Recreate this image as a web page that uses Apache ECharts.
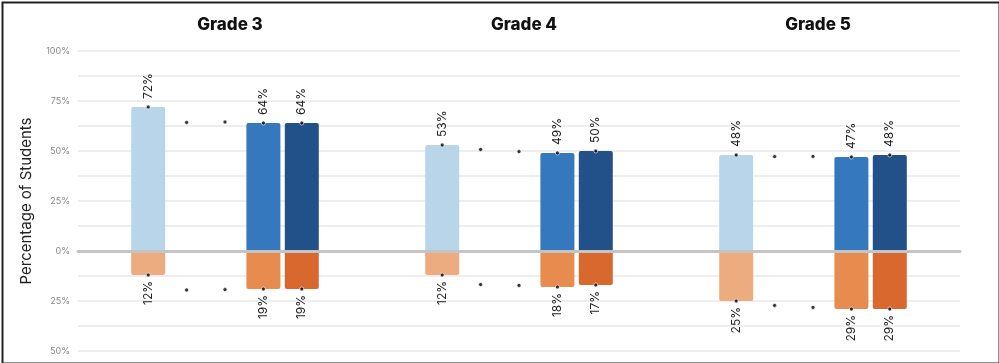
<!DOCTYPE html>
<html>
<head>
<meta charset="utf-8">
<script src="https://cdn.jsdelivr.net/npm/echarts@6/dist/echarts.min.js"></script>
<style>
html,body{margin:0;padding:0;background:#fff;}
#chart{width:999px;height:363px;}
</style>
</head>
<body>
<div id="chart"></div>
<script>
// ---- data ----
const grades = ['Grade 3', 'Grade 4', 'Grade 5'];
const slots = ['Group 1', 'Group 2', 'Group 3', 'Group 4', 'Group 5'];
const hasBar = [true, false, false, true, true];
const upperG3 = [72, 64.3, 64.5, 64, 64];
const lowerG3 = [12, 19.5, 19.3, 19, 19];
const upperG4 = [53, 50.8, 49.7, 49, 50];
const lowerG4 = [12, 16.8, 17.2, 18, 17];
const upperG5 = [48, 47.2, 47.3, 47, 48];
const lowerG5 = [25, 27.2, 28.2, 29, 29];
const yTicks = [-50, -25, 0, 25, 50, 75, 100];

const upperColors = ['#b9d5ea', null, null, '#3578bd', '#22518a'];
const lowerColors = ['#edac80', null, null, '#e88b4e', '#d9682e'];
const upperAll = [upperG3, upperG4, upperG5];
const lowerAll = [lowerG3, lowerG4, lowerG5];

const FONT = 'Inter, "Noto Sans", sans-serif';
const plotLeft = 78, plotRight = 960, plotTop = 51, plotBottom = 351;
const panelW = (plotRight - plotLeft) / 3;
const slotW = 38.4;
const innerW = slotW * slots.length;

const grid = [{left: plotLeft, width: plotRight - plotLeft, top: plotTop, height: plotBottom - plotTop}];
const xAxis = [{
  type: 'category', gridIndex: 0, data: [''],
  axisTick: {show: false}, axisLabel: {show: false},
  axisLine: {show: true, onZero: true, lineStyle: {color: '#c4c4c4', width: 3}}
}];
const yAxis = [{
  type: 'value', gridIndex: 0, min: -50, max: 100, interval: 12.5,
  name: 'Percentage of Students', nameLocation: 'middle', nameGap: 44,
  nameTextStyle: {fontFamily: FONT, fontSize: 15, color: '#222'},
  axisLine: {show: false}, axisTick: {show: false},
  splitLine: {show: true, lineStyle: {color: '#eeeeee', width: 2}},
  axisLabel: {
    fontFamily: FONT, fontSize: 9, color: '#888', margin: 8,
    formatter: v => yTicks.indexOf(v) >= 0 ? Math.abs(v) + '%' : ''
  }
}];
const titles = [];
const series = [];

grades.forEach((g, i) => {
  const center = plotLeft + panelW * (i + 0.5);
  const gi = i + 1;
  grid.push({left: center - innerW / 2, width: innerW, top: plotTop, height: plotBottom - plotTop});
  xAxis.push({
    type: 'category', gridIndex: gi, data: slots, z: 3,
    axisTick: {show: false}, axisLabel: {show: false},
    axisLine: {show: true, onZero: true, lineStyle: {color: '#c4c4c4', width: 3}}
  });
  yAxis.push({type: 'value', gridIndex: gi, min: -50, max: 100, interval: 12.5, show: false});
  titles.push({
    text: g, left: center, top: 11, textAlign: 'center',
    textStyle: {fontFamily: FONT, fontWeight: 800, fontSize: 17, color: '#111'}
  });
  const up = upperAll[i], lo = lowerAll[i];
  series.push({
    type: 'bar', xAxisIndex: gi, yAxisIndex: gi, barWidth: 34, barGap: '-100%',
    data: up.map((v, k) => hasBar[k] ? {value: v, itemStyle: {color: upperColors[k], borderRadius: [2, 2, 0, 0]}} : '-'),
    label: {
      show: true, position: 'top', rotate: 90, align: 'left', verticalAlign: 'middle', distance: 8,
      fontFamily: FONT, fontSize: 12, color: '#222',
      formatter: p => Math.round(p.value) + '%'
    }
  });
  series.push({
    type: 'bar', xAxisIndex: gi, yAxisIndex: gi, barWidth: 34, barGap: '-100%',
    data: lo.map((v, k) => hasBar[k] ? {value: -v, itemStyle: {color: lowerColors[k], borderRadius: [0, 0, 2, 2]}} : '-'),
    label: {
      show: true, position: 'bottom', rotate: 90, align: 'right', verticalAlign: 'middle', distance: 6,
      fontFamily: FONT, fontSize: 12, color: '#222',
      formatter: p => Math.round(-p.value) + '%'
    }
  });
  const pts = [];
  up.forEach((v, k) => pts.push([k, v]));
  lo.forEach((v, k) => pts.push([k, -v]));
  series.push({
    type: 'scatter', xAxisIndex: gi, yAxisIndex: gi, z: 5,
    symbol: 'circle', symbolSize: 4,
    itemStyle: {color: '#000', borderColor: '#fff', borderWidth: 0.8},
    data: pts
  });
});

const chart = echarts.init(document.getElementById('chart'), null, {renderer: 'canvas'});
chart.setOption({
  animation: false,
  backgroundColor: '#fff',
  title: titles,
  grid: grid,
  xAxis: xAxis,
  yAxis: yAxis,
  series: series,
  graphic: [{
    type: 'rect', left: 0, top: 0, z: 100,
    shape: {x: 1, y: 1, width: 997, height: 361},
    style: {fill: null, stroke: '#222', lineWidth: 2}
  }]
});
</script>
</body>
</html>
